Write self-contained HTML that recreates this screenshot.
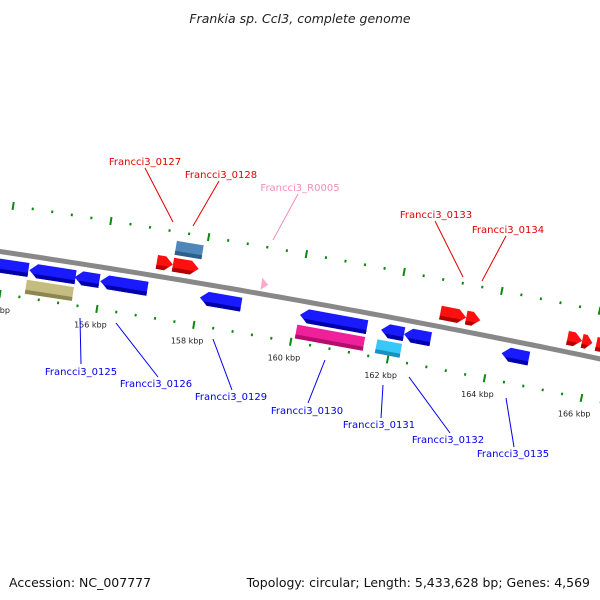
<!DOCTYPE html>
<html><head><meta charset="utf-8"><style>
body{margin:0;background:#fff}
svg{display:block}
text{font-family:"DejaVu Sans","Liberation Sans",sans-serif}
</style></head><body>
<svg id="chart" width="600" height="600" viewBox="0 0 600 600">
<text x="300" y="23" text-anchor="middle" font-size="12.5" font-style="italic" fill="#222">Frankia sp. CcI3, complete genome</text>
<text x="9" y="587" font-size="12.5" fill="#111">Accession: NC_007777</text>
<text x="590" y="587" text-anchor="end" font-size="12.5" fill="#111">Topology: circular; Length: 5,433,628 bp; Genes: 4,569</text>
<g id="track"></g>
<g id="labels"></g>
</svg>
<script>
// Data (kbp)
const majorTicks = [154,156,158,160,162,164,166];
const tickLabels = ["154 kbp","156 kbp","158 kbp","160 kbp","162 kbp","164 kbp","166 kbp"];
const geneStart = [153.62,154.52,155.45,155.98,158.03,160.09,161.76,162.23,164.24, 157.05,157.38,162.87,163.40,165.48,165.78,166.07, 157.38,154.50,160.07,161.72];
const geneEnd   = [154.50,155.47,155.96,156.95,158.88,161.47,162.23,162.78,164.80, 157.38,157.91,163.40,163.69,165.78,165.99,166.45, 157.93,155.47,161.47,162.23];
const geneStrand= [-1,-1,-1,-1,-1,-1,-1,-1,-1, 1,1,1,1,1,1,1, 0,0,0,0];
const geneLane  = [1,1,1,1,1,1,1,1,1, -1,-1,-1,-1,-1,-1,-1, -2,2,2,2];
const geneColor = ["blue","blue","blue","blue","blue","blue","blue","blue","blue","red","red","red","red","red","red","red","steel","khaki","pink","cyan"];
const geneNames = ["gene-a","gene-b","gene-c","gene-d","francci3-0129","francci3-0130","gene-0131b","gene-0132","francci3-0135","francci3-0127","francci3-0128","francci3-0133","francci3-0134","gene-r1","gene-r2","gene-r3","box-0128","box-0125","box-0130","box-0131"];
const trnaStart = 159.21, trnaEnd = 159.35;

const palette = {blue:["#1a1aff","#0000a8"],red:["#ff1010","#b00000"],steel:["#4f87b8","#2d5f8a"],khaki:["#c4bc80","#8d8650"],pink:["#f0209a","#b0106c"],cyan:["#38c8f8","#1890c0"]};
const NS="http://www.w3.org/2000/svg";
const track=document.getElementById('track'), labels=document.getElementById('labels');
// axis functions
function xOf(k){return 103.5+(k-156)*48.65;}
function yb(x){return 251.5+0.179*x-5e-5*x*(600-x);}
function slope(x){return 0.179-5e-5*(600-2*x);}
function P(k,v){const x=xOf(k),s=slope(x),n=Math.hypot(1,s);return [x-v*s/n, yb(x)+v/n];}
function pts(a){return a.map(p=>p[0].toFixed(1)+','+p[1].toFixed(1)).join(' ');}
function el(t,at,parent){const e=document.createElementNS(NS,t);for(const k in at)e.setAttribute(k,at[k]);(parent||track).appendChild(e);return e;}

// backbone
let d='';for(let x=-10;x<=610;x+=10){d+=(x<0?'M':'L')+x+','+yb(x).toFixed(1);}
const bb=el('path',{d:d,stroke:'#888',"stroke-width":5,fill:'none'});



// ticks
for(let i=0;i<=34;i++){
  const k=153.6+i*0.4; const kk=Math.round(k*10)/10;
  const major=Math.abs(kk/2-Math.round(kk/2))<0.01;
  [-47,42].forEach(v=>{
    const L=major?4:1.3;
    const a=P(kk,v-L),b=P(kk,v+L);
    const t=el('line',{x1:a[0],y1:a[1],x2:b[0],y2:b[1],stroke:'#0a8a0a',"stroke-width":2});
    
    
  });
}
majorTicks.forEach((k,i)=>{
  const p=P(k,58);
  const t=el('text',{x:p[0]-4,y:p[1]+3,"text-anchor":"middle","font-size":8,fill:'#222'});
  t.textContent=tickLabels[i];
  
  
});

// genes
const laneV={1:[7,21],'-1':[-21,-7],'-2':[-38,-24],2:[24,38]};
geneStart.forEach((s,i)=>{
  const e=geneEnd[i],[v0,v1]=laneV[geneLane[i]],st=geneStrand[i],col=palette[geneColor[i]];
  const h=Math.min(0.16,(e-s)*0.6),m=(v0+v1)/2;
  let poly;
  if(st===1) poly=[P(s,v0),P(e-h,v0),P(e,m),P(e-h,v1),P(s,v1)];
  else if(st===-1) poly=[P(s+h,v0),P(e,v0),P(e,v1),P(s+h,v1),P(s,m)];
  else poly=[P(s,v0),P(e,v0),P(e,v1),P(s,v1)];
  const g=el('g',{});
  
  
  el('polygon',{points:pts(poly),fill:col[0]},g);
  let sh;const b=v1-4;
  if(st===1) sh=[P(s,b),P(e-h-0.0,b),P(e-h*(1-(b-m)/(v1-m))*0+(-h*(v1-b)/(v1-m))+h*0,b),P(e-h,v1),P(s,v1)];
  if(st===1) sh=[P(s,b),P(e-h*(v1-b)/(v1-m),b),P(e-h,v1),P(s,v1)];
  else if(st===-1) sh=[P(s+h*(v1-b)/(v1-m),b),P(e,b),P(e,v1),P(s+h,v1)];
  else sh=[P(s,b),P(e,b),P(e,v1),P(s,v1)];
  el('polygon',{points:pts(sh),fill:col[1]},g);
});
// tRNA
const tr=el('polygon',{points:pts([P(trnaStart,-16),P(trnaEnd,-10),P(trnaStart,-4)]),fill:'#ffa8cc'});



// labels with leader lines
const lab=[["Francci3_0127",145,161,145,168,173,222,"#e00000"],["Francci3_0128",221,174,219,181,193,226,"#e00000"],
["Francci3_R0005",300,187,298,194,273,240,"#f48cbc"],["Francci3_0133",436,214,435,221,463,277,"#e00000"],
["Francci3_0134",508,229,506,236,482,281,"#e00000"],["Francci3_0125",81,371,80,318,81,364,"#0000ee"],
["Francci3_0126",156,383,116,323,158,377,"#0000ee"],["Francci3_0129",231,396,213,339,232,390,"#0000ee"],
["Francci3_0130",307,410,325,360,308,403,"#0000ee"],["Francci3_0131",379,424,383,385,381,418,"#0000ee"],
["Francci3_0132",448,439,409,377,450,433,"#0000ee"],["Francci3_0135",513,453,506,398,514,447,"#0000ee"]];
lab.forEach(l=>{
  const ln=el('line',{x1:l[3],y1:l[4],x2:l[5],y2:l[6],stroke:l[7],"stroke-width":1},labels);
  
  
  const t=el('text',{x:l[1],y:l[2]+4,"text-anchor":"middle","font-size":10,fill:l[7]},labels);
  t.textContent=l[0];
  
  
});
</script>
</body></html>
